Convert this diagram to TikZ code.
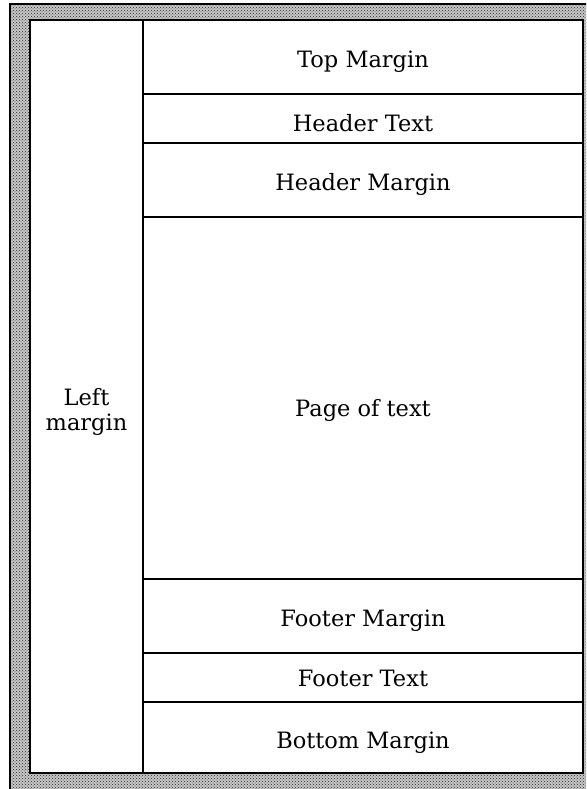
\documentclass[tikz,border=0pt]{standalone}
\usepackage{fontspec}
\setmainfont{DejaVu Serif}
\usetikzlibrary{patterns,positioning}
\tikzset{
  frame/.style={line width=2.6pt,preaction={fill=black!22},pattern=crosshatch dots,pattern color=black!85},
  band/.style={draw,fill=white,line width=2.5pt,outer sep=0pt,inner sep=0pt,
    minimum width=440pt,text height=26pt,font=\fontsize{22.5}{25}\selectfont},
  margincol/.style={band,minimum width=113pt,minimum height=753pt,align=center},
}
\begin{document}
\begin{tikzpicture}[x=1pt,y=-1pt]
    \useasboundingbox (0,0) rectangle (586,789);
    \clip (0,0) rectangle (586,789);
    % shaded page edge
    \draw[frame] (10,4) rectangle (610,810);
    \node[margincol,anchor=north west,text height=72pt] (left) at (30,20) {Left\\margin};
    \node[band,anchor=north west,minimum height=74pt] (top) at (left.north east) {Top Margin};
    \node[band,minimum height=49pt,below=0pt of top] (htext) {Header Text};
    \node[band,minimum height=74pt,below=0pt of htext] (hmargin) {Header Margin};
    \node[band,minimum height=362pt,text height=41pt,below=0pt of hmargin] (page) {Page of text};
    \node[band,minimum height=74pt,below=0pt of page] (fmargin) {Footer Margin};
    \node[band,minimum height=49pt,text height=19pt,below=0pt of fmargin] (ftext) {Footer Text};
    \node[band,minimum height=71pt,below=0pt of ftext] (bottom) {Bottom Margin};
  \end{tikzpicture}
\end{document}
